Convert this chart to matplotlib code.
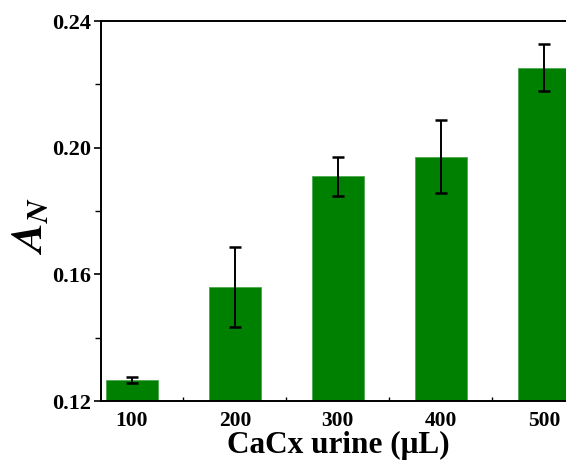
import matplotlib as mpl
import matplotlib.pyplot as plt
import numpy as np

mpl.rcParams["font.family"] = "Liberation Serif"
mpl.rcParams["font.weight"] = "bold"
mpl.rcParams["mathtext.fontset"] = "stix"

volumes = [100, 200, 300, 400, 500]
tick_labels = ["100", "200", "300", "400", "500"]
a_n = [0.1266, 0.1559, 0.1910, 0.1971, 0.2252]
a_n_err = [0.0010, 0.0126, 0.0062, 0.0115, 0.0074]

fig = plt.figure(figsize=(5.66, 4.63), dpi=100)
ax = fig.add_axes([0.1784, 0.1339, 0.837, 0.8207])

ax.bar(volumes, a_n, width=50, color="#008000", edgecolor="#4da64d",
       linewidth=0.6, zorder=2)
ax.errorbar(volumes, a_n, yerr=a_n_err, fmt="none", ecolor="black",
            elinewidth=1.4, capsize=4.5, capthick=1.8, zorder=3)

ax.set_xlim(70, 530)
ax.set_ylim(0.12, 0.24)
ax.set_xticks(volumes)
ax.set_xticklabels(tick_labels)
ax.set_xticks([150, 250, 350, 450], minor=True)
ax.set_yticks([0.12, 0.16, 0.20, 0.24])
ax.set_yticklabels(["0.12", "0.16", "0.20", "0.24"])
ax.set_yticks([0.14, 0.18, 0.22], minor=True)

ax.tick_params(axis="x", which="both", direction="in", labelsize=15.5,
               pad=7, length=3, width=1.0)
ax.tick_params(axis="y", which="major", direction="out", labelsize=16,
               pad=2, length=5, width=1.2)
ax.tick_params(axis="y", which="minor", direction="out", length=4, width=1.0)

for side in ["left", "bottom", "top"]:
    ax.spines[side].set_linewidth(1.4)
ax.spines["right"].set_visible(False)

ax.set_xlabel("CaCx urine (μL)", fontsize=22.5, fontweight="bold",
              labelpad=0)
ax.set_ylabel(r"$A_N$", fontsize=32)
ax.yaxis.set_label_coords(-0.105, 0.46)

fig.savefig("out.png", dpi=100)
